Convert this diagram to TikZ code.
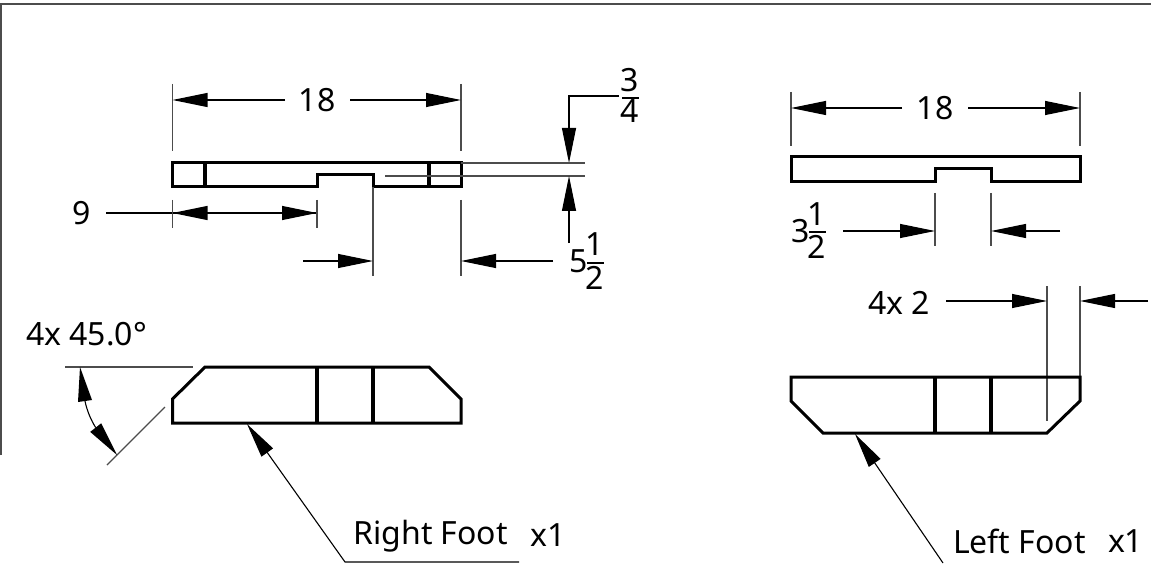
\documentclass[tikz,border=0pt]{standalone}
\usepackage{fontspec}
\setmainfont{Noto Sans}
\usetikzlibrary{arrows.meta}
\tikzset{
  part/.style={line width=3pt,line join=miter,line cap=butt,black},
  partin/.style={line width=3.1pt,black},
  ext/.style={line width=1.1pt,black!70},
  dim/.style={line width=1.1pt,black},
  dimarrow/.style={dim,-{Triangle[length=35pt,width=14pt,inset=0pt]}},
  frame/.style={line width=1.3pt,black!70},
  lab/.style={anchor=base,inner sep=0pt,outer sep=0pt,font=\fontsize{32}{38}\selectfont},
  barline/.style={line width=2pt,black}
}
\begin{document}
\begin{tikzpicture}[x=1pt,y=-1pt]
\useasboundingbox (0,0) rectangle (1151,564);
% frame
\coordinate (f1) at (1,455); \coordinate (f2) at (1,4); \coordinate (f3) at (1151,4);
\draw[frame] (f1) -- (f2) -- (f3);

% ---------- right foot, top view
\coordinate (a1) at (172.5,163); \coordinate (a2) at (461,163); \coordinate (a3) at (461,187);
\coordinate (a4) at (373,187); \coordinate (a5) at (373,175); \coordinate (a6) at (317,175);
\coordinate (a7) at (317,187); \coordinate (a8) at (172.5,187);
\draw[part] (a1) -- (a2) -- (a3) -- (a4) -- (a5) -- (a6) -- (a7) -- (a8) -- cycle;
\coordinate (a9) at (205,163); \coordinate (a10) at (205,187);
\coordinate (a11) at (429,163); \coordinate (a12) at (429,187);
\draw[partin] (a9) -- (a10); \draw[partin] (a11) -- (a12);

% 18
\coordinate (b1) at (172.5,84); \coordinate (b2) at (172.5,151);
\coordinate (b3) at (461,84); \coordinate (b4) at (461,151);
\draw[ext] (b1) -- (b2); \draw[ext] (b3) -- (b4);
\node[lab] (t18a) at (317,112) {18};
\coordinate (b5) at (285,100); \coordinate (b6) at (172.5,100);
\coordinate (b7) at (350,100); \coordinate (b8) at (461,100);
\draw[dimarrow] (b5) -- (b6); \draw[dimarrow] (b7) -- (b8);

% 3/4
\node[lab] (t3) at (630,91.5) {3};
\node[lab] (t4) at (630,122.5) {4};
\coordinate (c0a) at (622,98); \coordinate (c0b) at (639,98);
\draw[barline] (c0a) -- (c0b);
\coordinate (c1) at (619,96); \coordinate (c2) at (569,96); \coordinate (c3) at (569,163);
\draw[dimarrow] (c1) -- (c2) -- (c3);
\coordinate (c4) at (461,163); \coordinate (c5) at (585,163);
\coordinate (c6) at (385,176); \coordinate (c7) at (585,176);
\draw[ext] (c4) -- (c5); \draw[ext] (c6) -- (c7);
\coordinate (c8) at (569,243); \coordinate (c9) at (569,176);
\draw[dimarrow] (c8) -- (c9);

% 9
\node[lab] (t9) at (82,224.5) {9};
\coordinate (d1) at (106,213); \coordinate (d2) at (172.5,213); \coordinate (d3) at (317,213);
\draw[dim] (d1) -- (d2);
\draw[dimarrow] (d2) -- (d3);
\draw[dimarrow] (d3) -- (d2);
\coordinate (d4) at (172.5,200); \coordinate (d5) at (172.5,228);
\coordinate (d6) at (317,200); \coordinate (d7) at (317,228);
\draw[ext] (d4) -- (d5); \draw[ext] (d6) -- (d7);

% 5 1/2
\coordinate (e1) at (373,187); \coordinate (e2) at (373,276);
\coordinate (e3) at (461,200); \coordinate (e4) at (461,276);
\draw[ext] (e1) -- (e2); \draw[ext] (e3) -- (e4);
\coordinate (e5) at (303,261); \coordinate (e6) at (373,261);
\coordinate (e7) at (553,261); \coordinate (e8) at (461,261);
\draw[dimarrow] (e5) -- (e6); \draw[dimarrow] (e7) -- (e8);
\node[lab] (t5) at (578.5,272) {5};
\node[lab] (t1a) at (595,255) {1};
\node[lab] (t2a) at (595,289) {2};
\coordinate (e9) at (587,263); \coordinate (e10) at (604,263);
\draw[barline] (e9) -- (e10);

% ---------- right foot, front view
\coordinate (g1) at (205,367); \coordinate (g2) at (429,367); \coordinate (g3) at (461,399);
\coordinate (g4) at (461,423); \coordinate (g5) at (172.5,423); \coordinate (g6) at (172.5,399);
\draw[part] (g1) -- (g2) -- (g3) -- (g4) -- (g5) -- (g6) -- cycle;
\coordinate (g7) at (317,367); \coordinate (g8) at (317,423);
\coordinate (g9) at (373,367); \coordinate (g10) at (373,423);
\draw[partin] (g7) -- (g8); \draw[partin] (g9) -- (g10);

% 45 deg
\node[lab,anchor=base west] (t45) at (26,345) {4x 45.0°};
\coordinate (h1) at (65,367); \coordinate (h2) at (193,367);
\coordinate (h3) at (165,407); \coordinate (h4) at (107,465);
\draw[ext] (h1) -- (h2); \draw[ext] (h3) -- (h4);
\coordinate (h5) at (80,367); \coordinate (h6) at (117,455);
\coordinate (h7) at (85,401); \coordinate (h8) at (95.7,427.6);
\draw[dim] (h7) .. controls (87,411) and (91,420) .. (h8);
\coordinate (h9) at (92,400); \coordinate (h10) at (78,402);
\coordinate (h11) at (101.2,423.3); \coordinate (h12) at (90.2,431.9);
\fill (h5) -- (h9) -- (h10) -- cycle;
\fill (h6) -- (h11) -- (h12) -- cycle;

% Right Foot leader
\coordinate (i1) at (519,562); \coordinate (i2) at (345,562); \coordinate (i3) at (247,424);
\draw[dimarrow] (i1) -- (i2) -- (i3);
\node[lab,anchor=base west] (tr) at (353.5,544) {Right Foot};
\node[lab,anchor=base west] (trx) at (530.5,546) {x1};

% ---------- left foot, top view
\coordinate (k1) at (791,157); \coordinate (k2) at (1080,157); \coordinate (k3) at (1080,182);
\coordinate (k4) at (991,182); \coordinate (k5) at (991,169); \coordinate (k6) at (935,169);
\coordinate (k7) at (935,182); \coordinate (k8) at (791,182);
\draw[part] (k1) -- (k2) -- (k3) -- (k4) -- (k5) -- (k6) -- (k7) -- (k8) -- cycle;

% 18
\coordinate (l1) at (791,92); \coordinate (l2) at (791,146);
\coordinate (l3) at (1080,92); \coordinate (l4) at (1080,146);
\draw[ext] (l1) -- (l2); \draw[ext] (l3) -- (l4);
\node[lab] (t18b) at (935,120) {18};
\coordinate (l5) at (902,108); \coordinate (l6) at (791,108);
\coordinate (l7) at (968,108); \coordinate (l8) at (1080,108);
\draw[dimarrow] (l5) -- (l6); \draw[dimarrow] (l7) -- (l8);

% 3 1/2
\node[lab] (t3b) at (801,242.5) {3};
\node[lab] (t1b) at (817,225.5) {1};
\node[lab] (t2b) at (817,258.5) {2};
\coordinate (m0a) at (809,232); \coordinate (m0b) at (826,232);
\draw[barline] (m0a) -- (m0b);
\coordinate (m1) at (935,193); \coordinate (m2) at (935,246);
\coordinate (m3) at (991,193); \coordinate (m4) at (991,246);
\draw[ext] (m1) -- (m2); \draw[ext] (m3) -- (m4);
\coordinate (m5) at (843,231); \coordinate (m6) at (935,231);
\coordinate (m7) at (1060,231); \coordinate (m8) at (991,231);
\draw[dimarrow] (m5) -- (m6); \draw[dimarrow] (m7) -- (m8);

% 4x 2
\node[lab,anchor=base west] (t4x) at (868,314) {4x 2};
\coordinate (n1) at (1047,286); \coordinate (n2) at (1047,421);
\coordinate (n3) at (1080,286); \coordinate (n4) at (1080,377);
\draw[ext] (n1) -- (n2); \draw[ext] (n3) -- (n4);
\coordinate (n5) at (946,301); \coordinate (n6) at (1047,301);
\coordinate (n7) at (1148,301); \coordinate (n8) at (1080,301);
\draw[dimarrow] (n5) -- (n6); \draw[dimarrow] (n7) -- (n8);

% ---------- left foot, front view
\coordinate (o1) at (791,377); \coordinate (o2) at (1080,377); \coordinate (o3) at (1080,401);
\coordinate (o4) at (1047,433); \coordinate (o5) at (823,433); \coordinate (o6) at (791,401);
\draw[part] (o1) -- (o2) -- (o3) -- (o4) -- (o5) -- (o6) -- cycle;
\coordinate (o7) at (935,377); \coordinate (o8) at (935,433);
\coordinate (o9) at (991,377); \coordinate (o10) at (991,433);
\draw[partin] (o7) -- (o8); \draw[partin] (o9) -- (o10);

% Left Foot leader
\coordinate (p1) at (943,563); \coordinate (p2) at (855,434);
\draw[dimarrow] (p1) -- (p2);
\node[lab,anchor=base west] (tl) at (953,553) {Left Foot};
\node[lab,anchor=base west] (tlx) at (1108,552) {x1};
\end{tikzpicture}
\end{document}
